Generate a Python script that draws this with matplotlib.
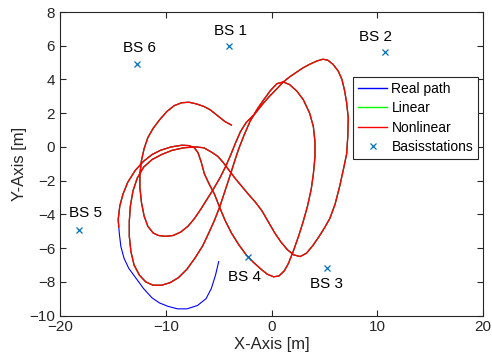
import numpy as np
import matplotlib
matplotlib.use("Agg")
import matplotlib.pyplot as plt

plt.rcParams['font.family'] = ['Liberation Sans', 'DejaVu Sans']

# Real path, in metres
real_x = [-5.0, -5.3, -5.7, -6.2, -7.0, -8.0, -8.9, -9.8, -10.6, -11.3,
          -12.1, -12.8, -13.5, -13.95, -14.25, -14.4, -14.5, -14.35, -14.05, -13.6,
          -12.9, -12.1, -11.3, -10.5, -9.5, -8.5, -7.8, -7.3, -6.95, -6.65,
          -6.35, -5.9, -5.4, -4.9, -4.4, -3.8, -3.1, -2.4, -1.7, -1.0,
          -0.4, 0.2, 0.7, 1.2, 1.6, 2.1, 2.6, 3.0, 3.4, 3.75,
          3.95, 4.1, 4.1, 3.95, 3.6, 3.0, 2.4, 1.7, 1.1, 0.5,
          -0.1, -0.8, -1.4, -2.05, -2.6, -3.1, -3.5, -3.9, -4.4, -4.9,
          -5.4, -5.9, -6.5, -7.2, -8.0, -8.8, -9.6, -10.4, -11.2, -11.9,
          -12.5, -13.0, -13.3, -13.45, -13.45, -13.35, -13.1, -12.7, -12.1, -11.3,
          -10.4, -9.4, -8.3, -7.2, -6.4, -5.7, -5.1, -4.6, -4.0, -3.4,
          -2.8, -2.2, -1.5, -0.9, -0.3, 0.3, 0.9, 1.5, 2.1, 2.7,
          3.3, 3.9, 4.5, 5.0, 5.5, 6.0, 6.45, 6.8, 7.1, 7.2,
          7.25, 7.1, 6.9, 6.65, 6.3, 5.8, 5.3, 4.85, 4.3, 3.6,
          3.0, 2.4, 1.7, 1.1, 0.5, -0.2, -0.9, -1.6, -2.4, -2.95,
          -3.4, -3.85, -4.3, -4.85, -5.5, -6.1, -6.7, -7.3, -7.9, -8.6,
          -9.3, -10.0, -10.7, -11.2, -11.7, -12.05, -12.3, -12.45, -12.45, -12.3,
          -12.05, -11.7, -11.2, -10.6, -9.9, -9.2, -8.5, -7.8, -7.1, -6.4,
          -5.8, -5.1, -4.4, -3.8]
real_y = [-6.8, -7.6, -8.4, -9.0, -9.4, -9.6, -9.6, -9.45, -9.25, -8.95,
          -8.4, -7.8, -7.2, -6.6, -5.9, -5.1, -4.3, -3.5, -2.8, -2.1,
          -1.4, -0.85, -0.45, -0.2, 0.0, 0.1, 0.08, -0.05, -0.35, -0.9,
          -1.6, -2.2, -2.8, -3.6, -4.35, -5.1, -5.8, -6.4, -6.85, -7.25,
          -7.55, -7.7, -7.65, -7.35, -6.9, -6.1, -5.2, -4.4, -3.5, -2.5,
          -1.6, -0.6, 0.3, 1.2, 2.0, 2.8, 3.3, 3.7, 3.85, 3.75,
          3.35, 2.75, 2.2, 1.5, 0.7, -0.1, -0.85, -1.65, -2.6, -3.55,
          -4.35, -5.05, -5.85, -6.55, -7.25, -7.75, -8.05, -8.2, -8.2, -8.0,
          -7.6, -7.0, -6.2, -5.3, -4.4, -3.5, -2.6, -1.85, -1.2, -0.75,
          -0.45, -0.2, -0.05, 0.0, -0.05, -0.3, -0.55, -0.9, -1.4, -1.9,
          -2.35, -2.8, -3.3, -3.8, -4.45, -5.1, -5.65, -6.1, -6.4, -6.5,
          -6.3, -5.85, -5.3, -4.8, -4.25, -3.4, -2.3, -1.3, -0.4, 0.6,
          1.7, 2.6, 3.35, 4.0, 4.5, 4.9, 5.15, 5.2, 5.1, 4.9,
          4.7, 4.45, 4.15, 3.85, 3.45, 3.0, 2.5, 1.95, 1.45, 0.9,
          0.25, -0.45, -1.1, -1.8, -2.5, -3.1, -3.7, -4.25, -4.7, -5.05,
          -5.25, -5.3, -5.25, -5.1, -4.7, -4.1, -3.3, -2.4, -1.6, -0.8,
          -0.1, 0.55, 1.1, 1.6, 2.1, 2.45, 2.62, 2.65, 2.55, 2.4,
          2.2, 1.85, 1.5, 1.3]

# Estimates only start once the path reaches the left side
est_start_x = [-14.45]
est_start_y = [-4.75]
est_from = 16

lin_x = est_start_x + real_x[est_from:]
lin_y = est_start_y + real_y[est_from:]
nonlin_x = est_start_x + real_x[est_from:]
nonlin_y = est_start_y + real_y[est_from:]

# Base stations
bs_x = [-4.0, 10.7, 5.2, -2.2, -18.2, -12.7]
bs_y = [6.0, 5.6, -7.15, -6.5, -4.9, 4.9]
bs_names = ["BS 1", "BS 2", "BS 3", "BS 4", "BS 5", "BS 6"]
bs_label_x = [-3.9, 9.85, 5.2, -2.6, -17.55, -12.45]
bs_label_y = [6.9, 6.5, -8.1, -7.7, -3.9, 5.85]

fig = plt.figure(figsize=(4.92, 3.64), dpi=100)
ax = fig.add_axes([0.122, 0.133, 0.860, 0.834])

ax.plot(real_x, real_y, color=(0, 0, 1), linewidth=0.8, label="Real path")
ax.plot(lin_x, lin_y, color=(0, 1, 0), linewidth=0.8, label="Linear")
ax.plot(nonlin_x, nonlin_y, color=(1, 0, 0), linewidth=1.0, label="Nonlinear")
ax.plot(bs_x, bs_y, 'x', color="#0072BD", markersize=4, markeredgewidth=0.9,
        linestyle="none", label="Basisstations")

for name, tx, ty in zip(bs_names, bs_label_x, bs_label_y):
    ax.text(tx, ty, name, fontsize=11, ha="center", va="center", color="black")

ax.set_xlim(-20, 20)
ax.set_ylim(-10, 8)
ax.set_xticks([-20, -10, 0, 10, 20])
ax.set_yticks(np.arange(-10, 9, 2))

edge = (0.15, 0.15, 0.15)
for s in ax.spines.values():
    s.set_color(edge)
    s.set_linewidth(0.8)
ax.tick_params(direction="in", top=True, right=True, colors=edge,
               labelsize=11, length=4, width=0.8, labelcolor=edge)

ax.set_xlabel("X-Axis [m]", fontsize=12, color=edge, labelpad=2)
ax.set_ylabel("Y-Axis [m]", fontsize=12, color=edge, labelpad=2)

leg = ax.legend(loc="upper left", bbox_to_anchor=(0.693, 0.787), fontsize=10,
                frameon=True, fancybox=False, edgecolor=edge, framealpha=1,
                handlelength=2.1, handletextpad=0.3, labelspacing=0.4,
                borderpad=0.35, borderaxespad=0)
leg.get_frame().set_linewidth(0.8)
for h in leg.get_lines()[:3]:
    h.set_linewidth(1.0)

fig.savefig("out.png", dpi=100)
